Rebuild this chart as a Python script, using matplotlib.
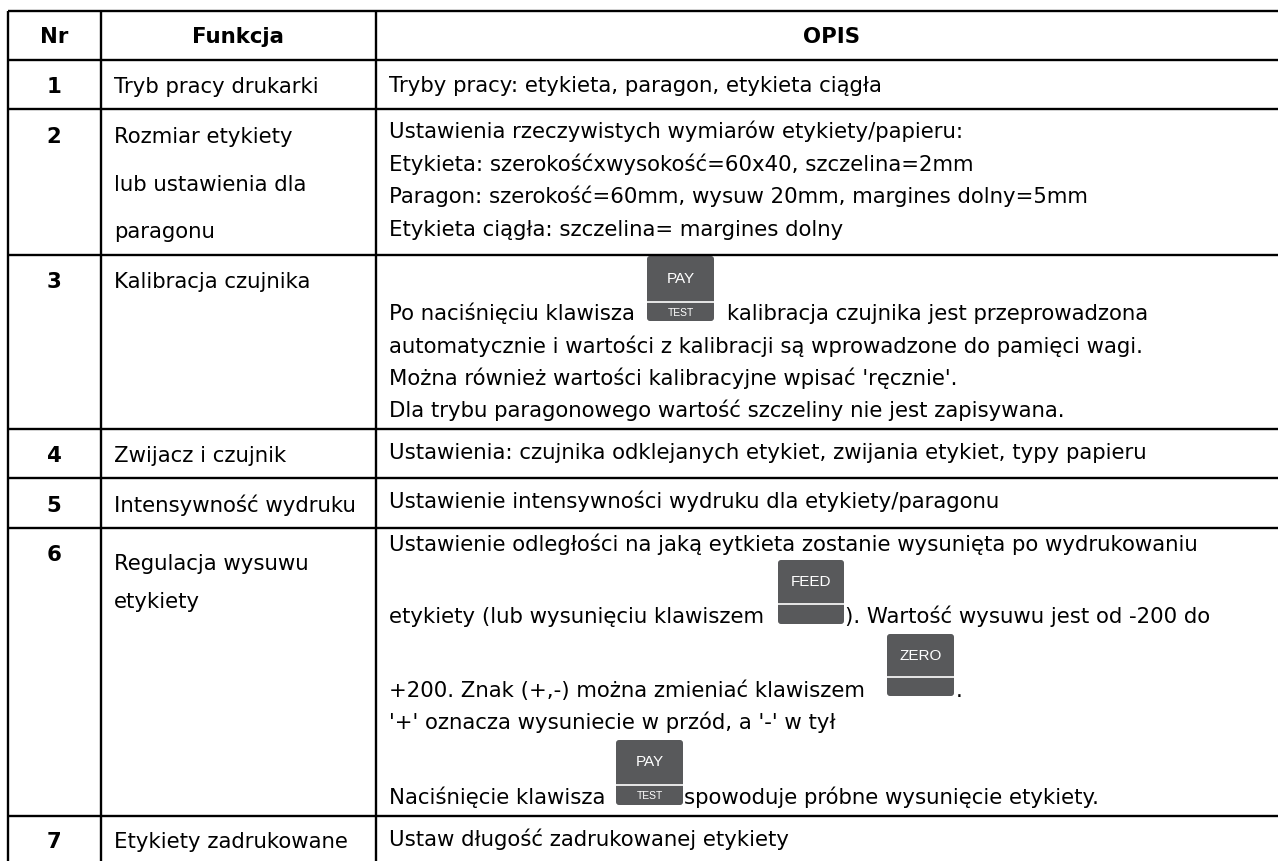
import matplotlib
matplotlib.use("Agg")
import matplotlib.pyplot as plt
from matplotlib.patches import FancyBboxPatch

W, H = 1278, 861

# linie tabeli w pikselach, prawej krawedzi nie ma na obrazku
col_x = [7.5, 101, 376]
row_y = [11, 60, 108.5, 254.5, 429, 478, 527.5, 815.7]

headers = ["Nr", "Funkcja", "OPIS"]
header_x = [54, 238, 832]

numbers = ["1", "2", "3", "4", "5", "6", "7"]
number_y = [93, 143, 288, 462, 512, 561, 848]

functions = [
    ("Tryb pracy drukarki", 93),
    ("Rozmiar etykiety", 143),
    ("lub ustawienia dla", 191),
    ("paragonu", 238),
    ("Kalibracja czujnika", 288),
    ("Zwijacz i czujnik", 462),
    ("Intensywność wydruku", 512),
    ("Regulacja wysuwu", 570),
    ("etykiety", 608),
    ("Etykiety zadrukowane", 848),
]

opis = [
    ("Tryby pracy: etykieta, paragon, etykieta ciągła", 389, 92),
    ("Ustawienia rzeczywistych wymiarów etykiety/papieru:", 389, 138),
    ("Etykieta: szerokośćxwysokość=60x40, szczelina=2mm", 389, 171),
    ("Paragon: szerokość=60mm, wysuw 20mm, margines dolny=5mm", 389, 203),
    ("Etykieta ciągła: szczelina= margines dolny", 389, 236),
    ("Po naciśnięciu klawisza", 389, 320),
    ("kalibracja czujnika jest przeprowadzona", 727, 320),
    ("automatycznie i wartości z kalibracji są wprowadzone do pamięci wagi.", 389, 353),
    ("Można również wartości kalibracyjne wpisać 'ręcznie'.", 389, 385),
    ("Dla trybu paragonowego wartość szczeliny nie jest zapisywana.", 389, 417),
    ("Ustawienia: czujnika odklejanych etykiet, zwijania etykiet, typy papieru", 389, 459),
    ("Ustawienie intensywności wydruku dla etykiety/paragonu", 389, 508),
    ("Ustawienie odległości na jaką eytkieta zostanie wysunięta po wydrukowaniu", 389, 551),
    ("etykiety (lub wysunięciu klawiszem", 389, 623),
    ("). Wartość wysuwu jest od -200 do", 845, 623),
    ("+200. Znak (+,-) można zmieniać klawiszem", 389, 697),
    (".", 956, 697),
    ("'+' oznacza wysuniecie w przód, a '-' w tył", 389, 729),
    ("Naciśnięcie klawisza", 389, 804),
    ("spowoduje próbne wysunięcie etykiety.", 684, 804),
    ("Ustaw długość zadrukowanej etykiety", 389, 846),
]

# klawisze: gorny napis, dolny napis, lewo, prawo, gora, kreska, dol
keys = [
    ("PAY", "TEST", 647, 714, 256, 302, 321),
    ("FEED", "", 778, 844, 560, 604, 624),
    ("ZERO", "", 887, 954, 634, 677, 696),
    ("PAY", "TEST", 616, 683, 740, 785, 805),
]

fig = plt.figure(figsize=(W / 100, H / 100), dpi=100)
ax = fig.add_axes([0, 0, 1, 1])
ax.set_xlim(0, W)
ax.set_ylim(H, 0)
ax.axis("off")

for x in col_x:
    ax.plot([x, x], [row_y[0], H], color="black", lw=1.7, solid_capstyle="butt")
for y in row_y:
    ax.plot([col_x[0], W], [y, y], color="black", lw=1.7, solid_capstyle="butt")

fs = 15.35
for x, t in zip(header_x, headers):
    ax.text(x, 43, t, ha="center", va="baseline", fontsize=fs, fontweight="bold", color="black")
for n, y in zip(numbers, number_y):
    ax.text(header_x[0], y, n, ha="center", va="baseline", fontsize=fs, fontweight="bold", color="black")
for t, y in functions:
    ax.text(114, y, t, ha="left", va="baseline", fontsize=fs, color="black")
for t, x, y in opis:
    ax.text(x, y, t, ha="left", va="baseline", fontsize=fs, color="black")

for top_label, low_label, x0, x1, y0, ym, y1 in keys:
    ax.add_patch(FancyBboxPatch((x0, y0), x1 - x0, y1 - y0, boxstyle="round,pad=0,rounding_size=3",
                                fc="#58595b", ec="none"))
    ax.plot([x0, x1], [ym, ym], color="white", lw=1.2, solid_capstyle="butt")
    xc = (x0 + x1) / 2
    ax.text(xc, (y0 + ym) / 2, top_label, ha="center", va="center",
            fontsize=11, color="white", family="Liberation Sans")
    if low_label:
        ax.text(xc, (ym + y1) / 2 + 1, low_label, ha="center", va="center",
                fontsize=7.5, color="white", family="Liberation Sans")

fig.savefig("out.png", dpi=100, facecolor="white")
